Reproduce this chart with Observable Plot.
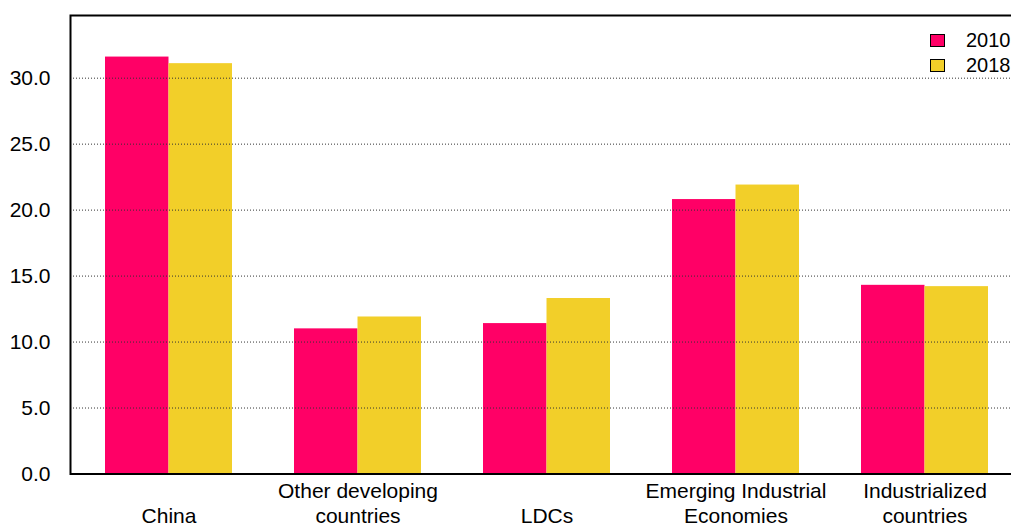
<!DOCTYPE html>
<html>
<head>
<meta charset="utf-8">
<script src="https://cdn.jsdelivr.net/npm/d3@7"></script>
<script src="https://cdn.jsdelivr.net/npm/@observablehq/plot@0.6"></script>
<style>
  html, body { margin: 0; padding: 0; background: #fff; overflow: hidden; }
  #chart { position: relative; width: 1011px; height: 525px; overflow: hidden; }
  #chart svg { position: absolute; left: 0; top: 0; max-width: none !important; }
  .legend { position: absolute; left: 930px; top: 34px; font: 20px "Liberation Sans", Arial, sans-serif; color: #000; white-space: nowrap; }
  .legend .row { display: flex; align-items: center; height: 13px; margin-bottom: 12px; }
  .legend .sw { box-sizing: border-box; flex: none; width: 15px; height: 13px; border: 1.6px solid #000; margin-right: 21px; }
  .legend .t { line-height: 13px; }
</style>
</head>
<body>
<div id="chart"></div>
<script>
// Shares by country group, 2010 vs 2018
const categories = ["China", "Other developing countries", "LDCs", "Emerging Industrial Economies", "Industrialized countries"];
const categoryLabels = ["China", "Other developing\ncountries", "LDCs", "Emerging Industrial\nEconomies", "Industrialized\ncountries"];
const years = ["2010", "2018"];
const values2010 = [31.6, 11.0, 11.4, 20.8, 14.3];
const values2018 = [31.1, 11.9, 13.3, 21.9, 14.2];
const yTicks = [0, 5, 10, 15, 20, 25, 30];
const yearColors = ["#FF0066", "#F2CF29"];

const W = 1030, H = 525;
const margin = {left: 70, right: 7, top: 15, bottom: 51.5};
const paddingInner = 0.328, paddingOuter = 0.185;

// half of a category band: each year takes one half
const band = d3.scaleBand()
  .domain(categories)
  .range([margin.left, W - margin.right])
  .paddingInner(paddingInner)
  .paddingOuter(paddingOuter);
const half = band.bandwidth() / 2;

const rows = categories.map((c, i) => ({category: c, label: categoryLabels[i], v2010: values2010[i], v2018: values2018[i]}));

const fontFamily = '"Liberation Sans", Arial, sans-serif';

const chart = Plot.plot({
  width: W,
  height: H,
  marginLeft: margin.left,
  marginRight: margin.right,
  marginTop: margin.top,
  marginBottom: margin.bottom,
  style: {fontFamily, fontSize: "21px", color: "#000", background: "#fff", maxWidth: "none"},
  x: {type: "band", domain: categories, paddingInner, paddingOuter, axis: null},
  y: {domain: [0, 34.75], axis: null},
  marks: [
    Plot.barY(rows, {x: "category", y: "v2010", fill: yearColors[0], insetLeft: 0, insetRight: half}),
    Plot.barY(rows, {x: "category", y: "v2018", fill: yearColors[1], insetLeft: half, insetRight: 0}),
    Plot.gridY(yTicks.filter(d => d > 0), {stroke: "#333", strokeOpacity: 1, strokeWidth: 1, strokeDasharray: "1,2"}),
    Plot.axisY(yTicks, {tickSize: 0, tickPadding: 20, tickFormat: d3.format(".1f"), fontSize: 21}),
    Plot.text(rows, {x: "category", text: "label", frameAnchor: "bottom", lineAnchor: "bottom", dy: 48.5, lineHeight: 1.19, fontSize: 21, fill: "#000"}),
    Plot.frame({stroke: "#000", strokeWidth: 2})
  ]
});

const root = document.getElementById("chart");
root.appendChild(chart);

// legend
const legend = document.createElement("div");
legend.className = "legend";
years.forEach((y, i) => {
  const row = document.createElement("div");
  row.className = "row";
  const sw = document.createElement("span");
  sw.className = "sw";
  sw.style.background = yearColors[i];
  const t = document.createElement("span");
  t.className = "t";
  t.textContent = y;
  row.appendChild(sw);
  row.appendChild(t);
  legend.appendChild(row);
});
root.appendChild(legend);
</script>
</body>
</html>
